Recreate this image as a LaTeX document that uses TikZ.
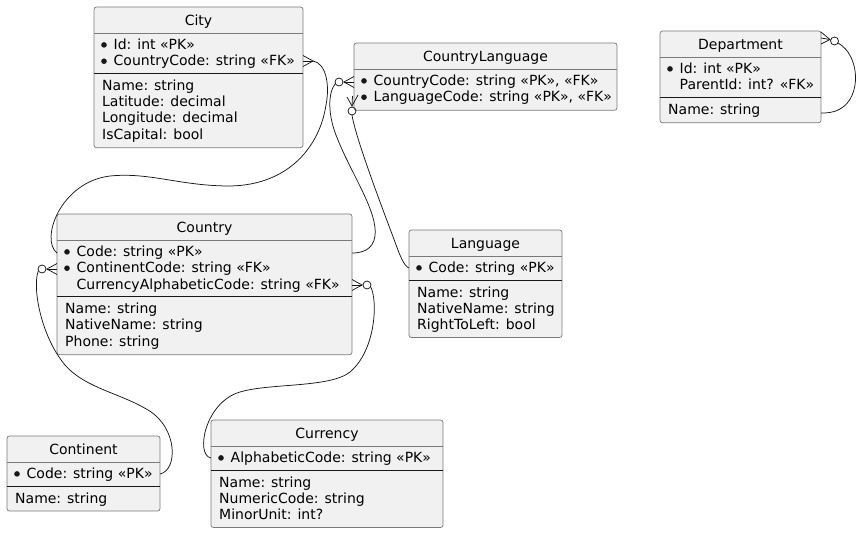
\documentclass[tikz,border=0pt]{standalone}
\usepackage{fontspec}
\setmainfont{DejaVu Sans}
\usetikzlibrary{calc}
\definecolor{efill}{HTML}{F1F1F1}
\definecolor{eborder}{HTML}{7A7A7A}
\definecolor{eline}{HTML}{181818}
\newcommand\ttlfont{\fontsize{14}{16}\selectfont}
\newcommand\atfont{\fontsize{14}{16.3}\selectfont}
\tikzset{
  ebox/.style={draw=eborder, fill=efill, rounded corners=2.5pt, line width=0.7pt,
    inner sep=0pt, outer sep=0pt, anchor=north west},
  ttl/.style={font=\ttlfont, anchor=base, inner sep=0pt, text=black},
  atxt/.style={font=\atfont, anchor=base west, inner sep=0pt, text=black},
  sepgray/.style={draw=eborder, line width=0.7pt},
  sepblack/.style={draw=eline, line width=1pt},
  conn/.style={draw=eline, line width=0.75pt},
}
\newcommand\entity[6]{%
  \node[ebox, minimum width=#4pt, minimum height=#5pt] (#1) at (#2,#3) {};
  \node[ttl] (#1-title) at ($(#1.north)+(0,18.5)$) {#6};
  \draw[sepgray] ($(#1.north west)+(0,26)$) -- ($(#1.north east)+(0,26)$);}
\newcommand\keyrow[4]{%
  \fill[eline] ($(#1.north west)+(10,#3-4.6)$) circle (2.8pt);
  \node[atxt] (#1-#2) at ($(#1.north west)+(19.5,#3)$) {#4};}
\newcommand\plainkey[4]{%
  \node[atxt] (#1-#2) at ($(#1.north west)+(19.5,#3)$) {#4};}
\newcommand\attrrow[4]{%
  \node[atxt] (#1-#2) at ($(#1.north west)+(8,#3)$) {#4};}
\newcommand\blacksep[2]{%
  \draw[sepblack] ($(#1.north west)+(0,#2)$) -- ($(#1.north east)+(0,#2)$);}
\newcommand\crowfoot[3]{%
  \begin{scope}[shift={(#1)}, xscale=#2]
    \draw[conn] (0,-5.5) -- (10,0) -- (0,5.5);
    \draw[conn] (0,0) -- (10,0);
    \ifnum#3=1 \draw[conn] (15,0) circle (4pt);\fi
  \end{scope}}
\begin{document}
\begin{tikzpicture}[x=1pt,y=-1pt]
\useasboundingbox (0,0) rectangle (862,533);

% City
\entity{city}{94}{7}{209}{140.7}{City}
\keyrow{city}{k1}{42.5}{Id: int «PK»}
\keyrow{city}{k2}{58.8}{CountryCode: string «FK»}
\blacksep{city}{66.3}
\attrrow{city}{a1}{83.3}{Name: string}
\attrrow{city}{a2}{99.6}{Latitude: decimal}
\attrrow{city}{a3}{115.9}{Longitude: decimal}
\attrrow{city}{a4}{132.2}{IsCapital: bool}

% CountryLanguage
\entity{cl}{354}{43}{263}{67.3}{CountryLanguage}
\keyrow{cl}{k1}{42.5}{CountryCode: string «PK», «FK»}
\keyrow{cl}{k2}{58.8}{LanguageCode: string «PK», «FK»}

% Department
\entity{dept}{660}{31}{161}{91.8}{Department}
\keyrow{dept}{k1}{42.5}{Id: int «PK»}
\plainkey{dept}{k2}{58.8}{ParentId: int? «FK»}
\blacksep{dept}{66.3}
\attrrow{dept}{a1}{83.3}{Name: string}

% Country
\entity{country}{57}{214}{295}{140.7}{Country}
\keyrow{country}{k1}{42.5}{Code: string «PK»}
\keyrow{country}{k2}{58.8}{ContinentCode: string «FK»}
\plainkey{country}{k3}{75.1}{CurrencyAlphabeticCode: string «FK»}
\blacksep{country}{82.6}
\attrrow{country}{a1}{99.6}{Name: string}
\attrrow{country}{a2}{115.9}{NativeName: string}
\attrrow{country}{a3}{132.2}{Phone: string}

% Language
\entity{language}{409}{230}{153}{107.5}{Language}
\keyrow{language}{k1}{42.5}{Code: string «PK»}
\blacksep{language}{50}
\attrrow{language}{a1}{67}{Name: string}
\attrrow{language}{a2}{83.3}{NativeName: string}
\attrrow{language}{a3}{99.6}{RightToLeft: bool}

% Continent
\entity{continent}{7}{436}{153}{75}{Continent}
\keyrow{continent}{k1}{42.5}{Code: string «PK»}
\blacksep{continent}{50}
\attrrow{continent}{a1}{67}{Name: string}

% Currency
\entity{currency}{211}{420}{232}{107.5}{Currency}
\keyrow{currency}{k1}{42.5}{AlphabeticCode: string «PK»}
\blacksep{currency}{50}
\attrrow{currency}{a1}{67}{Name: string}
\attrrow{currency}{a2}{83.3}{NumericCode: string}
\attrrow{currency}{a3}{99.6}{MinorUnit: int?}

% connector end points
\coordinate (cityFK) at ($(city.north east)+(0,54)$);
\coordinate (countryPKw) at ($(country.north west)+(0,39)$);
\coordinate (countryPKe) at ($(country.north east)+(0,39)$);
\coordinate (clCC) at ($(cl.north west)+(0,39)$);
\coordinate (clLC) at ($(cl.north west)+(-1.5,53)$);
\coordinate (langPK) at ($(language.north west)+(0,38)$);
\coordinate (countryCC) at ($(country.north west)+(0,55)$);
\coordinate (continentPK) at ($(continent.north east)+(0,38)$);
\coordinate (countryCur) at ($(country.north east)+(0,71)$);
\coordinate (currencyPK) at ($(currency.north west)+(0,38)$);
\coordinate (deptTop) at ($(dept.north east)+(0,7)$);
\coordinate (deptName) at ($(dept.north east)+(0,82)$);

% City -> Country
\crowfoot{cityFK}{1}{0}
\draw[conn] ($(cityFK)+(10,0)$) .. controls (326,63) and (330,85) .. (326,105)
  .. controls (320,145) and (290,185) .. (230,186)
  .. controls (180,186) and (150,172) .. (110,176)
  .. controls (60,182) and (40,240) .. (countryPKw);

% CountryLanguage -> Country
\crowfoot{clCC}{-1}{1}
\draw[conn] ($(clCC)+(-18.5,1.5)$) .. controls (328,92) and (327,115) .. (338,140)
  .. controls (352,175) and (378,212) .. (375,236)
  .. controls (373,250) and (362,253) .. (countryPKe);

% CountryLanguage -> Language
\draw[conn] (347,97) -- (352,106) -- (358,95);
\draw[conn] (clLC) -- (352,106);
\draw[conn] (352,111) circle (4pt);
\draw[conn] (352,115) .. controls (356,140) and (385,215) .. (395,242)
  .. controls (400,256) and (404,266) .. (langPK);

% Country -> Continent
\crowfoot{countryCC}{-1}{1}
\draw[conn] ($(countryCC)+(-18.5,1.5)$) .. controls (32,285) and (40,335) .. (65,365)
  .. controls (85,388) and (120,393) .. (148,410)
  .. controls (178,428) and (178,470) .. (continentPK);

% Country -> Currency
\crowfoot{countryCur}{1}{1}
\draw[conn] ($(countryCur)+(18.5,1.5)$) .. controls (378,300) and (376,350) .. (350,372)
  .. controls (330,388) and (270,383) .. (240,392)
  .. controls (205,402) and (195,455) .. (currencyPK);

% Department self reference
\draw[conn] (821,32) -- (830,39.5) -- (821,44);
\draw[conn] (deptTop) -- (830,39.5);
\draw[conn] (834.5,41) circle (4pt);
\draw[conn] (838,43) .. controls (860,55) and (862,97) .. (840,109)
  .. controls (833,113) and (826,113) .. (deptName);
\end{tikzpicture}
\end{document}
